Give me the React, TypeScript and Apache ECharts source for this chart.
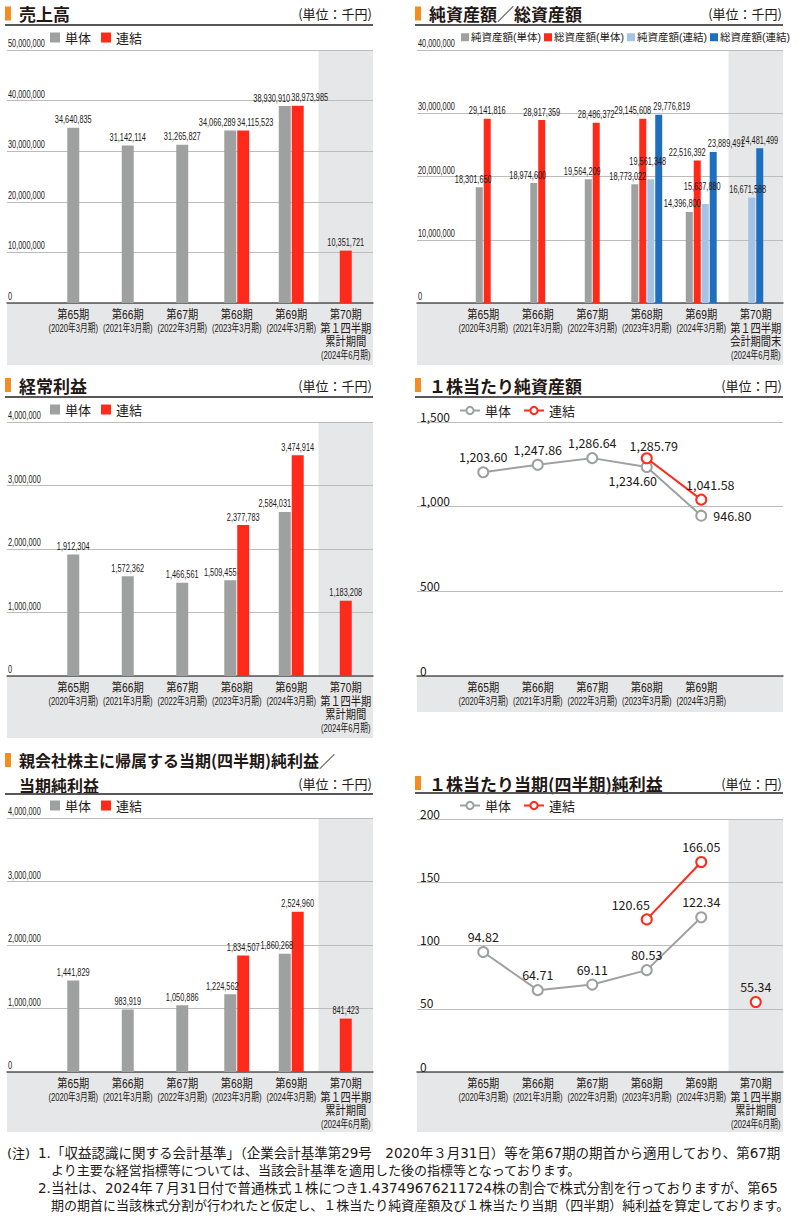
import React, { useEffect, useRef } from 'react';
import * as echarts from 'echarts';

// ---------- data ----------
const categories = ['第65期', '第66期', '第67期', '第68期', '第69期', '第70期'];
const periodNotes = ['(2020年3月期)', '(2021年3月期)', '(2022年3月期)', '(2023年3月期)', '(2024年3月期)', '(2024年6月期)'];
const quarterCumNotes = ['第１四半期', '累計期間'];
const quarterEndNotes = ['第１四半期', '会計期間末'];

// 売上高 (千円)
const salesNonCons = [34640835, 31142114, 31265827, 34066289, 38930910, null];
const salesCons = [null, null, null, 34115523, 38973985, 10351721];
const salesTicks = [0, 10000000, 20000000, 30000000, 40000000, 50000000];

// 純資産額／総資産額 (千円)
const netAssetsNonCons = [18301650, 18974600, 19564209, 18773022, 14396800, null];
const totalAssetsNonCons = [29141816, 28917359, 28486372, 29145608, 22516392, null];
const netAssetsCons = [null, null, null, 19561348, 15637880, 16671588];
const totalAssetsCons = [null, null, null, 29776819, 23889491, 24481499];
const assetsTicks = [0, 10000000, 20000000, 30000000, 40000000];

// 経常利益 (千円)
const ordinaryNonCons = [1912304, 1572362, 1466561, 1509455, 2584031, null];
const ordinaryCons = [null, null, null, 2377783, 3474914, 1183208];
const ordinaryTicks = [0, 1000000, 2000000, 3000000, 4000000];

// 1株当たり純資産額 (円)
const bpsNonCons = [1203.6, 1247.86, 1286.64, 1234.6, 946.8];
const bpsCons = [null, null, null, 1285.79, 1041.58];
const bpsTicks = [0, 500, 1000, 1500];

// 親会社株主に帰属する当期純利益 (千円)
const netIncomeNonCons = [1441829, 983919, 1050886, 1224562, 1860268, null];
const netIncomeCons = [null, null, null, 1834507, 2524960, 841423];
const netIncomeTicks = [0, 1000000, 2000000, 3000000, 4000000];

// 1株当たり当期純利益 (円)
const epsNonCons = [94.82, 64.71, 69.11, 80.53, 122.34, null];
const epsCons = [null, null, null, 120.65, 166.05, 55.34];
const epsTicks = [0, 50, 100, 150, 200];

const footnotes = [
  '1.「収益認識に関する会計基準」（企業会計基準第29号　2020年３月31日）等を第67期の期首から適用しており、第67期',
  'より主要な経営指標等については、当該会計基準を適用した後の指標等となっております。',
  '2.当社は、2024年７月31日付で普通株式１株につき1.43749676211724株の割合で株式分割を行っておりますが、第65',
  '期の期首に当該株式分割が行われたと仮定し、１株当たり純資産額及び１株当たり当期（四半期）純利益を算定しております。',
];

// ---------- styles ----------
const NARROW = '"Liberation Sans", "Noto Sans CJK JP", sans-serif';
const JP = '"Noto Sans CJK JP", sans-serif';
const NOTE = '"DejaVu Sans", "Noto Sans CJK JP", sans-serif';
const TEXT = '#231815';
const GRAY = '#9fa0a0';
const RED = '#ff2a1a';
const LBLUE = '#a5c3e6';
const DBLUE = '#1f6fbf';
const SHADE = '#e6e7e8';
const GRIDC = '#bcbcbc';
const AXISC = '#595757';
const ORANGE = '#f68b1f';
const BAND = 54.5;
const PANEL_W = 366;
const LABEL_COL = 39;
const SQUEEZE = 0.67; // condensed look of the figures

const bpsNonConsLabel: any[] = [{}, {}, {}, { position: 'bottom', offset: [-14, -2] }, { position: 'right', offset: [3, 0] }];
const bpsConsLabel: any[] = [{}, {}, {}, { offset: [7, 2] }, { offset: [9, 0] }];
const epsConsLabel: any[] = [{}, {}, {}, { offset: [-16, 0] }, {}, {}];

function buildOption() {
  const grid: any[] = [];
  const xAxis: any[] = [];
  const yAxis: any[] = [];
  const series: any[] = [];
  const legend: any[] = [];
  const graphic: any[] = [];

  const fmtInt = (v: any) => Number(v).toLocaleString('en-US');
  const fmtDec = (v: any) => Number(v).toLocaleString('en-US', { minimumFractionDigits: 2, maximumFractionDigits: 2 });
  const legendFmt = (n: string) => n.split('|')[1];

  const squeezedText = (text: string, x: number, y: number, align: string, fontSize = 11, sx = SQUEEZE, vAlign = 'bottom') => ({
    type: 'text', x, y, scaleX: sx, scaleY: 1,
    style: { text, fill: TEXT, fontSize, fontFamily: NARROW, align, textAlign: align, verticalAlign: vAlign, textVerticalAlign: vAlign },
  });

  function addPanel(c: any) {
    const h = c.bottom - c.top;
    const max = c.ticks[c.ticks.length - 1];
    const interval = c.ticks[1] - c.ticks[0];
    graphic.push({ type: 'rect', z: -10, silent: true, shape: { x: c.x0, y: c.bottom, width: PANEL_W, height: c.grayBottom - c.bottom }, style: { fill: SHADE } });
    if (c.shade) {
      graphic.push({ type: 'rect', z: -10, silent: true, shape: { x: c.x0 + LABEL_COL + (c.nCats - 1) * BAND, y: c.top, width: PANEL_W - LABEL_COL - (c.nCats - 1) * BAND, height: h }, style: { fill: SHADE } });
    }
    const gb = grid.push({ left: c.x0, top: c.top, width: PANEL_W, height: h }) - 1;
    xAxis.push({ gridIndex: gb, type: 'value', min: 0, max: 1, position: 'bottom', axisLine: { show: true, onZero: false, lineStyle: { color: AXISC, width: 1.5 } }, axisTick: { show: false }, axisLabel: { show: false }, splitLine: { show: false } });
    yAxis.push({ gridIndex: gb, type: 'value', min: 0, max, interval, axisLine: { show: false }, axisTick: { show: false }, axisLabel: { show: false }, splitLine: { show: true, lineStyle: { color: GRIDC, width: 1 } } });
    const gm = grid.push({ left: c.x0 + LABEL_COL, top: c.top, width: c.nCats * BAND, height: h }) - 1;
    const cats = categories.slice(0, c.nCats);
    const xa = xAxis.push({
      gridIndex: gm, type: 'category', data: cats,
      axisLine: { show: false }, axisTick: { show: false }, axisLabel: { show: false },
    }) - 1;
    const xb = xAxis.push({ gridIndex: gm, type: 'category', data: cats, show: false }) - 1;
    const ya = yAxis.push({
      gridIndex: gm, type: 'value', min: 0, max, interval,
      splitLine: { show: false }, axisLine: { show: false }, axisTick: { show: false },
      axisLabel: c.narrow
        ? { show: false }
        : { align: 'left', verticalAlign: 'bottom', margin: LABEL_COL - 3, fontSize: 12, fontFamily: JP, color: TEXT, formatter: fmtInt },
    }) - 1;

    // category labels (condensed), placed under each category by the axis
    series.push({
      type: 'custom', name: 'categoryLabels', xAxisIndex: xa, yAxisIndex: ya, silent: true, clip: false, z: 6,
      encode: { x: 0, y: 1 },
      data: cats.map((_, i) => [i, 0]),
      renderItem: (params: any, api: any) => {
        const i = api.value(0);
        const pt = api.coord([i, 0]);
        const lines: { t: string; big: boolean }[] = [{ t: categories[i], big: true }];
        if (i === 5 && c.extra) c.extra.forEach((e: string) => lines.push({ t: e, big: true }));
        lines.push({ t: periodNotes[i], big: false });
        return {
          type: 'group',
          children: lines.map((l, k) =>
            squeezedText(l.t, pt[0], pt[1] + 12 + 13.4 * k, 'center', l.big ? 12.5 : 11, l.big ? 0.82 : 0.7, 'middle')),
        };
      },
    });

    if (c.narrow) {
      // condensed tick labels, placed by the value axis
      series.push({
        type: 'custom', name: 'ticks', xAxisIndex: xa, yAxisIndex: ya, silent: true, clip: false, z: 6,
        encode: { x: 0, y: 1 },
        data: c.ticks.map((t: number) => [0, t]),
        renderItem: (params: any, api: any) => {
          const y = api.coord([0, api.value(1)])[1];
          return squeezedText(fmtInt(api.value(1)), params.coordSys.x - (LABEL_COL - 1), y - 1, 'left');
        },
      });
    }
    return { xa, xb, ya };
  }

  function header(x0: number, titles: { text: string; y: number }[], unit: string, unitY: number, lineY: number, markerY: number, titleSize = 17) {
    graphic.push({ type: 'rect', shape: { x: x0 - 2, y: markerY, width: 6, height: 14 }, style: { fill: ORANGE } });
    titles.forEach((t) => {
      graphic.push({ type: 'text', x: x0 + 12, y: t.y, style: { text: t.text, fill: TEXT, fontSize: titleSize, lineHeight: titleSize + 2, fontWeight: 'bold', fontFamily: JP, align: 'left', textAlign: 'left', verticalAlign: 'middle', textVerticalAlign: 'middle' } });
    });
    graphic.push({ type: 'text', x: x0 + 365, y: unitY, style: { text: unit, fill: TEXT, fontSize: 13, lineHeight: 15, fontFamily: JP, align: 'right', textAlign: 'right', verticalAlign: 'middle', textVerticalAlign: 'middle' } });
    graphic.push({ type: 'line', shape: { x1: x0 - 2, y1: lineY, x2: x0 + PANEL_W, y2: lineY }, style: { stroke: AXISC, lineWidth: 2 } });
  }

  function barLegend(key: string, names: string[], left: number, top: number, small = false) {
    legend.push({
      left, top, padding: 0, selectedMode: false, icon: 'rect',
      itemWidth: small ? 8 : 10, itemHeight: small ? 8 : 10, itemGap: small ? 3 : 10,
      data: names.map((n) => `${key}|${n}`), formatter: legendFmt,
      textStyle: { fontSize: small ? 10.5 : 13, fontFamily: small ? NARROW : JP, color: TEXT, padding: small ? [0, 0, 0, -3] : 0 },
    });
  }

  function lineLegend(key: string, names: string[], left: number, top: number) {
    legend.push({
      left, top, padding: 0, selectedMode: false, itemWidth: 20, itemHeight: 9, itemGap: 12,
      data: names.map((n) => `${key}|${n}`), formatter: legendFmt,
      textStyle: { fontSize: 13, fontFamily: JP, color: TEXT },
    });
  }

  function valueLabels(p: any, values: any[], dx: number, dist: number) {
    series.push({
      type: 'custom', name: 'values', xAxisIndex: p.xa, yAxisIndex: p.ya, silent: true, clip: false, z: 6,
      encode: { x: 0, y: 1 },
      data: values.map((v, i) => (v == null ? null : [i, v])).filter((d) => d != null),
      renderItem: (params: any, api: any) => {
        const pt = api.coord([api.value(0), api.value(1)]);
        return squeezedText(fmtInt(api.value(1)), pt[0] + dx, pt[1] - dist, 'center');
      },
    });
  }

  function addBars(key: string, p: any, groups: any[], pairedMask: boolean[], width: number, gapPct: number) {
    const gap = `${gapPct}%`;
    const step = width * (1 + gapPct / 100);
    const stacks: string[] = [];
    groups.forEach((g) => { if (!stacks.includes(g.stack)) stacks.push(g.stack); });
    groups.forEach((g, k) => {
      const data = g.values.map((v: any, i: number) => (pairedMask[i] ? v : null));
      series.push({
        name: `${key}|${g.name}`, type: 'bar', xAxisIndex: p.xa, yAxisIndex: p.ya, barWidth: width, barGap: gap,
        data, itemStyle: { color: g.color },
      });
      valueLabels(p, data, (k - (groups.length - 1) / 2) * step + g.pairedDx, g.pairedDist ?? 2.5);
    });
    groups.forEach((g) => {
      const data = g.values.map((v: any, i: number) => (pairedMask[i] ? null : v));
      series.push({
        name: `${key}|${g.name}`, type: 'bar', xAxisIndex: p.xb, yAxisIndex: p.ya, barWidth: width, barGap: gap, stack: `${key}-${g.stack}`,
        data, itemStyle: { color: g.color },
      });
      const slot = stacks.indexOf(g.stack);
      valueLabels(p, data, (slot - (stacks.length - 1) / 2) * step + g.soloDx, 2.5);
    });
  }

  const lineSeries = (name: string, p: any, values: any[], color: string, labels: any[]) => ({
    name, type: 'line', xAxisIndex: p.xa, yAxisIndex: p.ya,
    data: values.map((v, i) => (v == null ? '-' : { value: v, label: labels[i] || {} })),
    symbol: 'circle', symbolSize: 10, z: 5,
    lineStyle: { color, width: 2 },
    itemStyle: { color: '#fff', borderColor: color, borderWidth: 2 },
    label: { show: true, position: 'top', distance: 3, fontSize: 12.5, fontFamily: JP, color: TEXT, formatter: (pp: any) => fmtDec(pp.value) },
  });

  // ---- panel 1: 売上高 ----
  header(7, [{ text: '売上高', y: 13.5 }], '(単位：千円)', 13.5, 25, 6.5);
  const p1 = addPanel({ x0: 7, top: 50, bottom: 303, grayBottom: 365, ticks: salesTicks, nCats: 6, extra: quarterCumNotes, shade: true, narrow: true });
  barLegend('p1', ['単体', '連結'], 50, 31);
  addBars('p1', p1, [
    { name: '単体', values: salesNonCons, color: GRAY, pairedDx: -13, soloDx: 0, stack: 's' },
    { name: '連結', values: salesCons, color: RED, pairedDx: 12, soloDx: 0, stack: 's' },
  ], salesNonCons.map((v, i) => v != null && salesCons[i] != null), 12, 8);

  // ---- panel 2: 純資産額／総資産額 ----
  header(417, [{ text: '純資産額／総資産額', y: 13.5 }], '(単位：千円)', 13.5, 25, 6.5);
  const p2 = addPanel({ x0: 417, top: 50, bottom: 303, grayBottom: 365, ticks: assetsTicks, nCats: 6, extra: quarterEndNotes, shade: true, narrow: true });
  barLegend('p2', ['純資産額(単体)', '総資産額(単体)', '純資産額(連結)', '総資産額(連結)'], 461, 32, true);
  addBars('p2', p2, [
    { name: '純資産額(単体)', values: netAssetsNonCons, color: GRAY, pairedDx: -7, soloDx: -6, stack: 'net' },
    { name: '総資産額(単体)', values: totalAssetsNonCons, color: RED, pairedDx: -10, soloDx: 0, stack: 'tot' },
    { name: '純資産額(連結)', values: netAssetsCons, color: LBLUE, pairedDx: -3, pairedDist: 12, soloDx: -4, stack: 'net' },
    { name: '総資産額(連結)', values: totalAssetsCons, color: DBLUE, pairedDx: 13, soloDx: 0, stack: 'tot' },
  ], netAssetsNonCons.map((v, i) => v != null && netAssetsCons[i] != null), 7, 14);

  // ---- panel 3: 経常利益 ----
  header(7, [{ text: '経常利益', y: 385 }], '(単位：千円)', 385, 397, 378);
  const p3 = addPanel({ x0: 7, top: 422, bottom: 676, grayBottom: 738, ticks: ordinaryTicks, nCats: 6, extra: quarterCumNotes, shade: true, narrow: true });
  barLegend('p3', ['単体', '連結'], 50, 403);
  addBars('p3', p3, [
    { name: '単体', values: ordinaryNonCons, color: GRAY, pairedDx: -10, soloDx: 0, stack: 's' },
    { name: '連結', values: ordinaryCons, color: RED, pairedDx: 0, soloDx: 0, stack: 's' },
  ], ordinaryNonCons.map((v, i) => v != null && ordinaryCons[i] != null), 12, 8);

  // ---- panel 4: 1株当たり純資産額 ----
  header(417, [{ text: '１株当たり純資産額', y: 385 }], '(単位：円)', 385, 397, 378);
  const p4 = addPanel({ x0: 417, top: 422, bottom: 676, grayBottom: 712, ticks: bpsTicks, nCats: 5, extra: null, shade: false, narrow: false });
  lineLegend('p4', ['単体', '連結'], 459, 404);
  series.push(lineSeries('p4|単体', p4, bpsNonCons, GRAY, bpsNonConsLabel));
  series.push(lineSeries('p4|連結', p4, bpsCons, RED, bpsConsLabel));

  // ---- panel 5: 親会社株主に帰属する当期純利益 ----
  header(7, [{ text: '親会社株主に帰属する当期(四半期)純利益／', y: 760 }, { text: '当期純利益', y: 784.5 }], '(単位：千円)', 783, 794, 753, 16);
  const p5 = addPanel({ x0: 7, top: 818, bottom: 1072, grayBottom: 1132, ticks: netIncomeTicks, nCats: 6, extra: quarterCumNotes, shade: true, narrow: true });
  barLegend('p5', ['単体', '連結'], 50, 799);
  addBars('p5', p5, [
    { name: '単体', values: netIncomeNonCons, color: GRAY, pairedDx: -8, soloDx: 0, stack: 's' },
    { name: '連結', values: netIncomeCons, color: RED, pairedDx: 0, soloDx: 0, stack: 's' },
  ], netIncomeNonCons.map((v, i) => v != null && netIncomeCons[i] != null), 12, 8);

  // ---- panel 6: 1株当たり当期純利益 ----
  header(417, [{ text: '１株当たり当期(四半期)純利益', y: 783 }], '(単位：円)', 783, 793, 776);
  const p6 = addPanel({ x0: 417, top: 819, bottom: 1072, grayBottom: 1132, ticks: epsTicks, nCats: 6, extra: quarterCumNotes, shade: true, narrow: false });
  lineLegend('p6', ['単体', '連結'], 459, 799);
  series.push(lineSeries('p6|単体', p6, epsNonCons, GRAY, []));
  // the quarterly (第70期) point is not joined to the annual line
  series.push(lineSeries('p6|連結', p6, epsCons.map((v, i) => (i < 5 ? v : null)), RED, epsConsLabel));
  series.push(lineSeries('p6|連結', p6, epsCons.map((v, i) => (i === 5 ? v : null)), RED, epsConsLabel));

  // ---- footnotes ----
  const noteStyle = { fill: TEXT, fontSize: 13, fontFamily: NOTE, align: 'left', textAlign: 'left', verticalAlign: 'middle', textVerticalAlign: 'middle' };
  graphic.push({ type: 'text', x: 7, y: 1153, style: { ...noteStyle, text: '(注)' } });
  graphic.push({ type: 'text', x: 38, y: 1153, style: { ...noteStyle, fontSize: 13.5, text: footnotes[0] } });
  graphic.push({ type: 'text', x: 51, y: 1170.5, style: { ...noteStyle, text: footnotes[1] } });
  graphic.push({ type: 'text', x: 38, y: 1188, style: { ...noteStyle, fontSize: 13.5, text: footnotes[2] } });
  graphic.push({ type: 'text', x: 51, y: 1205, style: { ...noteStyle, text: footnotes[3] } });

  return {
    animation: false,
    backgroundColor: '#ffffff',
    textStyle: { fontFamily: JP },
    grid, xAxis, yAxis, series, legend,
    graphic: { elements: graphic },
  };
}

export default function App() {
  const ref = useRef<HTMLDivElement>(null);
  useEffect(() => {
    const chart = echarts.init(ref.current as HTMLDivElement, null, { renderer: 'svg' });
    chart.setOption(buildOption() as any);
    return () => chart.dispose();
  }, []);
  return <div ref={ref} style={{ position: 'absolute', left: 0, top: 0, width: 800, height: 1219, background: '#fff' }} />;
}
